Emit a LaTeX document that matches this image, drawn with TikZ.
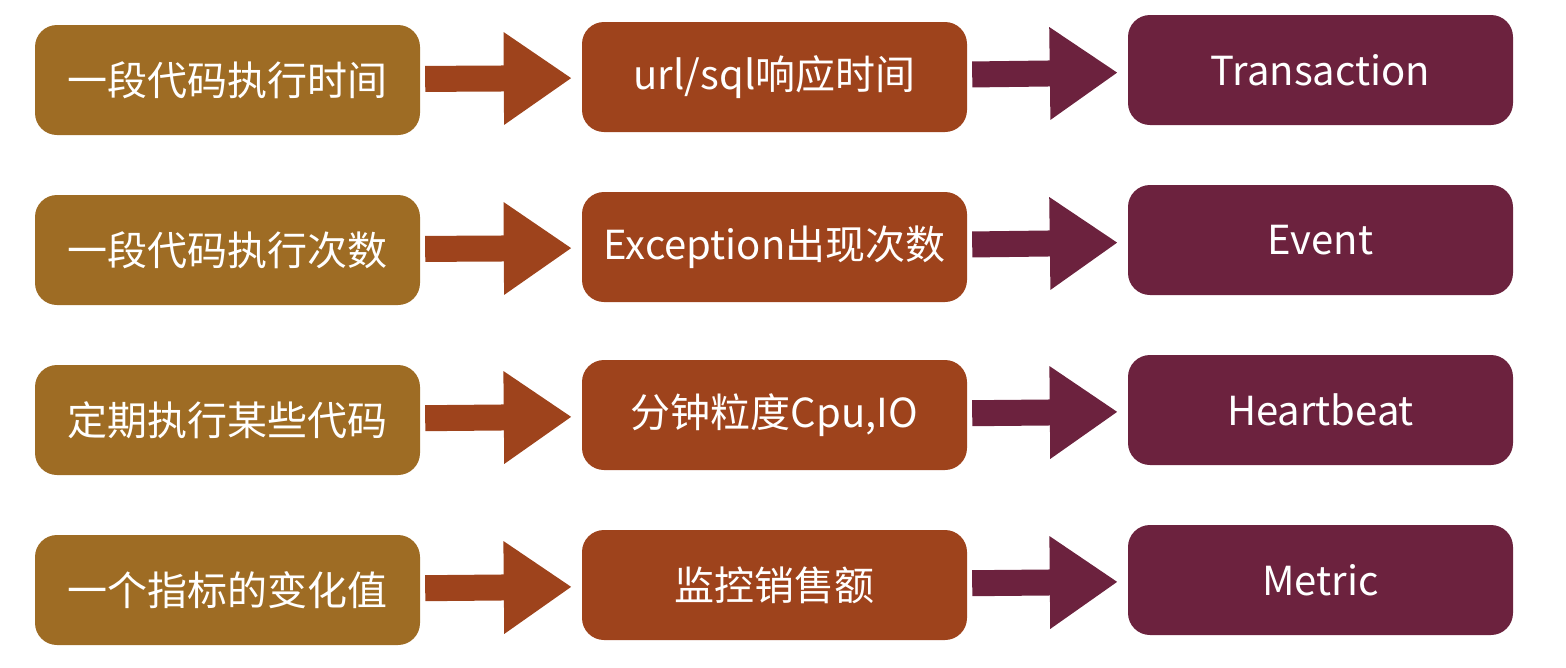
\documentclass[tikz,border=0pt]{standalone}
\usepackage{fontspec}
\setmainfont{Noto Sans CJK SC}
\usetikzlibrary{arrows.meta}

\definecolor{srccol}{RGB}{158,108,36}
\definecolor{usecol}{RGB}{158,67,28}
\definecolor{typecol}{RGB}{108,34,62}

\tikzset{
    box/.style={rounded corners=22pt, minimum width=385pt, minimum height=110pt,
        text=white, font=\fontsize{40}{48}\selectfont, inner sep=0pt},
    srcbox/.style={box, fill=srccol},
    usebox/.style={box, fill=usecol},
    typebox/.style={box, fill=typecol},
    bigarrow/.style={line width=26pt, -{Triangle[length=68pt,width=88pt]},
        shorten <=5pt, shorten >=10pt}
}

\begin{document}
\begin{tikzpicture}[x=1pt,y=-1pt]
        \useasboundingbox (0,0) rectangle (1566,667);

        % left column
        \node[srcbox] (src1) at (227.5,80) {一段代码执行时间};
        \node[srcbox] (src2) at (227.5,250) {一段代码执行次数};
        \node[srcbox] (src3) at (227.5,420) {定期执行某些代码};
        \node[srcbox] (src4) at (227.5,590) {一个指标的变化值};

        % middle column
        \node[usebox] (use1) at (774.5,77) {url/sql响应时间};
        \node[usebox] (use2) at (774.5,247) {Exception出现次数};
        \node[usebox] (use3) at (774.5,415) {分钟粒度Cpu,IO};
        \node[usebox] (use4) at (774.5,585) {监控销售额};

        % right column
        \node[typebox] (type1) at (1320.5,70) {Transaction};
        \node[typebox] (type2) at (1320.5,240) {Event};
        \node[typebox] (type3) at (1320.5,410) {Heartbeat};
        \node[typebox] (type4) at (1320.5,580) {Metric};

        \foreach \i in {1,...,4} {
            \draw[bigarrow, usecol] (src\i) -- (use\i);
            \draw[bigarrow, typecol] (use\i) -- (type\i);
        }
\end{tikzpicture}
\end{document}
